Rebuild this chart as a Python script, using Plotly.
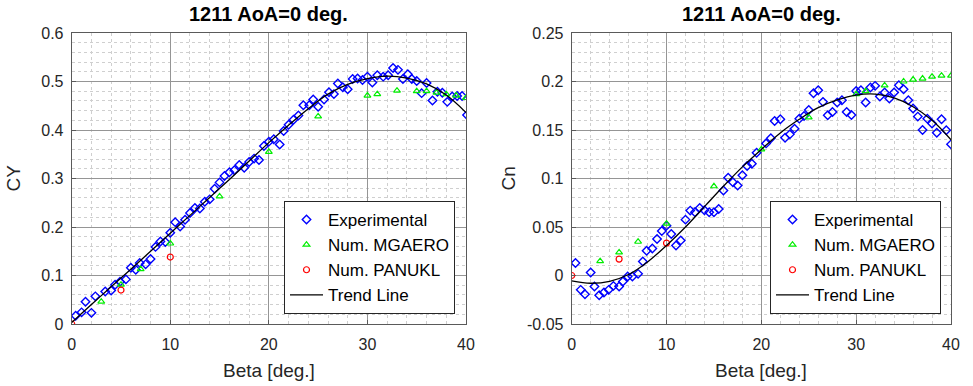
import plotly.graph_objects as go

# ---------------- Left panel: CY ----------------
cy_exp_beta = [0.4, 1.0, 1.4, 2.0, 2.4, 3.4, 4.0, 4.4, 4.9, 5.5, 6.0, 6.5, 6.9, 7.5, 8.0, 8.5, 9.0, 9.5,
               10.0, 10.5, 11.0, 11.5, 12.0, 12.5, 13.0, 13.5, 14.0, 14.5, 15.0, 15.5, 16.0, 16.5, 17.0,
               17.5, 18.0, 18.5, 19.0, 19.5, 20.0, 20.5, 21.1, 21.5, 22.0, 22.5, 23.0, 23.5, 24.1, 24.5,
               25.0, 25.6, 26.1, 26.6, 27.0, 27.5, 28.0, 28.5, 29.0, 29.5, 30.0, 30.5, 31.0, 31.6, 32.1,
               32.6, 33.1, 33.6, 34.1, 34.5, 35.0, 35.5, 36.0, 36.6, 37.1, 37.6, 38.1, 38.6, 39.1, 39.6, 40.1]
cy_exp = [0.017, 0.024, 0.046, 0.023, 0.057, 0.067, 0.069, 0.081, 0.087, 0.092, 0.116, 0.112, 0.126,
          0.123, 0.134, 0.159, 0.170, 0.169, 0.188, 0.210, 0.201, 0.215, 0.229, 0.239, 0.238, 0.252,
          0.257, 0.279, 0.292, 0.305, 0.313, 0.317, 0.328, 0.322, 0.334, 0.341, 0.338, 0.367, 0.376,
          0.381, 0.370, 0.398, 0.411, 0.421, 0.430, 0.451, 0.451, 0.463, 0.448, 0.463, 0.478, 0.474,
          0.496, 0.488, 0.484, 0.505, 0.506, 0.503, 0.510, 0.498, 0.513, 0.510, 0.513, 0.528, 0.524,
          0.505, 0.515, 0.505, 0.501, 0.476, 0.497, 0.461, 0.479, 0.477, 0.458, 0.469, 0.470, 0.470, 0.431]

cy_mg_beta = [3, 5, 7, 10, 15, 20, 25, 30, 31, 33, 35, 36, 37, 38, 39, 40]
cy_mg = [0.046, 0.081, 0.113, 0.166, 0.263, 0.355, 0.428, 0.471, 0.474, 0.481, 0.480, 0.480, 0.477,
         0.474, 0.471, 0.466]

cy_pan_beta = [0, 5, 10]
cy_pan = [0.0, 0.070, 0.138]

trend_beta = [0, 2, 4, 6, 8, 10, 12, 14, 16, 18, 20, 22, 24, 26, 28, 30, 32, 34, 36, 38, 40]
cy_trend = [0.003, 0.040, 0.077, 0.113, 0.150, 0.187, 0.224, 0.261, 0.298, 0.336, 0.374, 0.410,
            0.444, 0.474, 0.494, 0.506, 0.511, 0.507, 0.495, 0.472, 0.436]

# ---------------- Right panel: Cn ----------------
cn_exp_beta = [0.4, 0.95, 1.4, 2.0, 2.4, 2.9, 3.4, 3.9, 4.4, 5.0, 5.4, 5.9, 6.4, 7.0, 7.5, 7.9, 8.5,
               9.0, 9.5, 10.0, 10.5, 11.0, 11.5, 12.0, 12.5, 13.0, 13.5, 14.0, 14.5, 15.0, 15.5, 16.0,
               16.5, 17.0, 17.5, 18.0, 18.5, 19.0, 19.5, 20.5, 21.0, 21.4, 22.0, 22.5, 23.0, 23.5, 24.0,
               24.5, 25.0, 25.5, 26.0, 26.5, 27.0, 27.5, 28.0, 28.5, 29.0, 29.5, 30.0, 30.5, 31.0, 31.5,
               32.0, 32.5, 33.0, 33.5, 34.0, 34.5, 35.0, 35.5, 36.0, 36.5, 37.0, 37.5, 38.0, 38.5, 39.0,
               39.5, 40.0]
cn_exp = [0.0128, -0.0148, -0.0193, 0.0031, -0.0114, -0.0203, -0.0176, -0.0148, -0.0107, -0.0114,
          -0.0062, -0.0010, -0.0010, 0.0017, 0.0145, 0.0255, 0.0279, 0.0376, 0.0459, 0.0514, 0.0428,
          0.0310, 0.0362, 0.0576, 0.0669, 0.0652, 0.0697, 0.0672, 0.0652, 0.0652, 0.0686, 0.0876,
          0.1007, 0.0962, 0.0928, 0.1034, 0.1128, 0.1152, 0.1266, 0.1362, 0.1414, 0.1593, 0.1610,
          0.1421, 0.1455, 0.1514, 0.1617, 0.1645, 0.1707, 0.1879, 0.1910, 0.1790, 0.1652, 0.1686,
          0.1783, 0.1807, 0.1686, 0.1655, 0.1903, 0.1910, 0.1783, 0.1938, 0.1955, 0.1845, 0.1886,
          0.1824, 0.1886, 0.1962, 0.1921, 0.1807, 0.1721, 0.1638, 0.1500, 0.1617, 0.1566, 0.1472,
          0.1610, 0.1497, 0.1352]

cn_mg_beta = [3, 5, 7, 10, 15, 20, 25, 30, 31, 33, 35, 36, 37, 38, 39, 40]
cn_mg = [0.0148, 0.0238, 0.0348, 0.0534, 0.092, 0.130, 0.163, 0.187, 0.190, 0.196, 0.200, 0.202,
         0.203, 0.205, 0.206, 0.206]

cn_pan_beta = [0, 5, 10]
cn_pan = [0.0, 0.0169, 0.0334]

cn_trend = [-0.0055, -0.008, -0.006, 0.001, 0.014, 0.031, 0.050, 0.071, 0.092, 0.112, 0.130, 0.147,
            0.161, 0.173, 0.181, 0.186, 0.187, 0.183, 0.174, 0.160, 0.140]

# tick labels
x_ticks = [0, 10, 20, 30, 40]
cy_ticks = [0, 0.1, 0.2, 0.3, 0.4, 0.5, 0.6]
cy_ticktext = ["0", "0.1", "0.2", "0.3", "0.4", "0.5", "0.6"]
cn_ticks = [-0.05, 0, 0.05, 0.1, 0.15, 0.2, 0.25]
cn_ticktext = ["-0.05", "0", "0.05", "0.1", "0.15", "0.2", "0.25"]

FONT = "Liberation Sans, Arial, Helvetica, sans-serif"
W, H = 973, 386

fig = go.Figure()

def add_panel(xa, ya, leg, eb, ev, mb, mv, pb, pv, tv):
    fig.add_trace(go.Scatter(x=eb, y=ev, mode="markers", name="Experimental", xaxis=xa, yaxis=ya,
                             legend=leg,
                             marker=dict(symbol="diamond-open", size=6.5, color="#0000ff",
                                         line=dict(width=1.4, color="#0000ff"))))
    fig.add_trace(go.Scatter(x=mb, y=mv, mode="markers", name="Num. MGAERO", xaxis=xa, yaxis=ya,
                             legend=leg,
                             marker=dict(symbol="triangle-up-open", size=6, color="#00ee00",
                                         line=dict(width=1.2, color="#00ee00"))))
    fig.add_trace(go.Scatter(x=pb, y=pv, mode="markers", name="Num. PANUKL", xaxis=xa, yaxis=ya,
                             legend=leg,
                             marker=dict(symbol="circle-open", size=6, color="#ff0000",
                                         line=dict(width=1.2, color="#ff0000"))))
    fig.add_trace(go.Scatter(x=trend_beta, y=tv, mode="lines", name="Trend Line", xaxis=xa, yaxis=ya,
                             legend=leg, line=dict(color="#000000", width=1.3, shape="spline")))

add_panel("x", "y", "legend", cy_exp_beta, cy_exp, cy_mg_beta, cy_mg, cy_pan_beta, cy_pan, cy_trend)
add_panel("x2", "y2", "legend2", cn_exp_beta, cn_exp, cn_mg_beta, cn_mg, cn_pan_beta, cn_pan, cn_trend)

def px_x(p):
    return p / W

def px_y(p):
    return 1 - p / H

L1, R1 = 71.7, 466.0
L2, R2 = 571.7, 951.0
TOP, BOT = 33.0, 324.0

axis_common = dict(showgrid=True, gridcolor="#959595", gridwidth=1, zeroline=False,
                   showline=True, mirror=True, linecolor="#5a5a5a", linewidth=1,
                   ticks="inside", ticklen=4, tickcolor="#5a5a5a",
                   tickfont=dict(family=FONT, size=16, color="#262626"),
                   automargin=False, fixedrange=True)

xcommon = dict(axis_common, range=[0, 40], tickvals=x_ticks, ticklabelstandoff=6,
               minor=dict(dtick=2, tick0=0, showgrid=True, gridcolor="#cfcfcf", griddash="dot",
                          gridwidth=1, ticks=""))

legend_common = dict(xanchor="right", yanchor="bottom", y=px_y(314),
                     bgcolor="white", bordercolor="#262626", borderwidth=1,
                     font=dict(family=FONT, size=17, color="#000000"), itemwidth=33,
                     tracegroupgap=0)

fig.update_layout(
    width=W, height=H,
    margin=dict(l=0, r=0, t=0, b=0),
    paper_bgcolor="white", plot_bgcolor="white",
    font=dict(family=FONT, color="#262626"),
    xaxis=dict(xcommon, domain=[px_x(L1), px_x(R1)], anchor="y"),
    xaxis2=dict(xcommon, domain=[px_x(L2), px_x(R2)], anchor="y2"),
    yaxis=dict(axis_common, domain=[px_y(BOT), px_y(TOP)], anchor="x", range=[0, 0.6],
               tickvals=cy_ticks, ticktext=cy_ticktext, ticklabelstandoff=4,
               minor=dict(dtick=0.02, tick0=0, showgrid=True, gridcolor="#cfcfcf", griddash="dot",
                          gridwidth=1, ticks="")),
    yaxis2=dict(axis_common, domain=[px_y(BOT), px_y(TOP)], anchor="x2", range=[-0.05, 0.25],
                tickvals=cn_ticks, ticktext=cn_ticktext, ticklabelstandoff=4,
                minor=dict(dtick=0.01, tick0=0, showgrid=True, gridcolor="#cfcfcf", griddash="dot",
                           gridwidth=1, ticks="")),
    legend=dict(legend_common, x=px_x(455)),
    legend2=dict(legend_common, x=px_x(941)),
    showlegend=True,
)

title_txt = "<b>1211 AoA=0 deg.</b>"
ann = []
for (l, r) in [(L1, R1), (L2, R2)]:
    ann.append(dict(text=title_txt, x=px_x((l + r) / 2), y=px_y(14), xref="paper", yref="paper",
                    showarrow=False, xanchor="center", yanchor="middle",
                    font=dict(family=FONT, size=20, color="#000000")))
    ann.append(dict(text="Beta [deg.]", x=px_x((l + r) / 2), y=px_y(370), xref="paper", yref="paper",
                    showarrow=False, xanchor="center", yanchor="middle",
                    font=dict(family=FONT, size=19, color="#262626")))
ann.append(dict(text="CY", x=px_x(13), y=px_y((TOP + BOT) / 2), xref="paper", yref="paper",
                showarrow=False, xanchor="center", yanchor="middle", textangle=-90,
                font=dict(family=FONT, size=19, color="#262626")))
ann.append(dict(text="Cn", x=px_x(508), y=px_y((TOP + BOT) / 2), xref="paper", yref="paper",
                showarrow=False, xanchor="center", yanchor="middle", textangle=-90,
                font=dict(family=FONT, size=19, color="#262626")))
fig.update_layout(annotations=ann)

fig.write_html("out.html")
